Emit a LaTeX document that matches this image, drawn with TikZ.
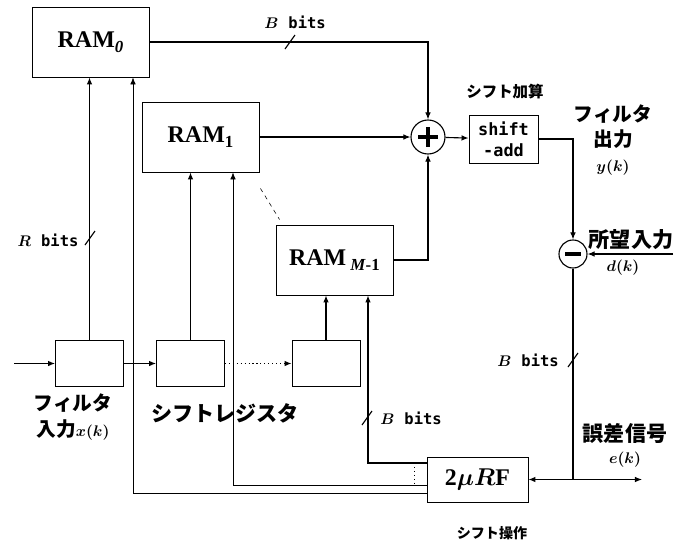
\documentclass[tikz,border=0pt]{standalone}
\usepackage{fontspec}
\usepackage{bm}
\newfontfamily\jp{Noto Sans CJK JP}
\newfontfamily\mono{DejaVu Sans Mono}
\newfontfamily\heavy{Liberation Serif}
\usetikzlibrary{arrows.meta,calc,positioning}
\newcommand\busmark[1]{\draw[wire] ($(#1)+(-5,7)$) -- ($(#1)+(5,-7)$);}
\newcommand\bitstext{\mono\bfseries bits}
\newcommand\ramsub[1]{\raisebox{-4pt}{\fontsize{12}{12}\selectfont #1}}
\tikzset{
  ram/.style={
    draw,
    line width = 0.6pt,
    minimum width = 2.925cm,
    minimum height = 1.75cm,
    inner sep = 0pt,
    font = \heavy\bfseries\fontsize{17}{19}\selectfont
  },
  reg/.style={
    draw,
    line width = 0.6pt,
    minimum width = 1.7cm,
    minimum height = 1.17cm
  },
  adder/.style={
    draw,
    circle,
    line width = 0.8pt,
    inner sep = 0pt
  },
  plus/.style={
    adder,
    path picture={
      \draw[line width=2.4pt] ([xshift=-0.24cm]path picture bounding box.center) -- ([xshift=0.24cm]path picture bounding box.center);
      \draw[line width=2.4pt] ([yshift=-0.24cm]path picture bounding box.center) -- ([yshift=0.24cm]path picture bounding box.center);
    }
  },
  minus/.style={
    adder,
    path picture={
      \draw[line width=2.4pt] ([xshift=-0.2cm]path picture bounding box.center) -- ([xshift=0.2cm]path picture bounding box.center);
    }
  },
  wire/.style={
    line width = 0.8pt
  },
  fb/.style={
    line width = 0.5pt
  },
  bitlbl/.style={
    font = \fontsize{11}{12}\selectfont,
    inner sep = 1pt
  },
  jlabel/.style={
    font = \jp\bfseries\fontsize{14}{18}\selectfont,
    align = center,
    inner sep = 1pt
  }
}

\begin{document}
\begin{tikzpicture}[x=0.025cm, y=-0.025cm, >={Latex[length=5pt,width=4pt]}]
    \useasboundingbox (0,0) rectangle (686,541);

    % RAM tables
    \node[ram] (ram0) at (90.5,42) {RAM\ramsub{\itshape 0}};
    \node[ram] (ram1) at (200.5,137) {RAM\ramsub{1}};
    \node[ram] (ramM) at (334.5,260) {RAM\,\ramsub{\textit{M}-1}};

    % shift register
    \node[reg] (sr1) at (89.5,363.5) {};
    \node[reg] (sr2) at (190.5,363.5) {};
    \node[reg] (sr3) at (326,363.5) {};

    \node[plus, minimum size=0.85cm] (sum) at (428,137) {};
    \node[draw, line width=0.6pt, minimum width=1.725cm, minimum height=1.2cm, inner sep=0pt, align=center,
          font=\mono\bfseries\fontsize{12}{15}\selectfont] (sa) at (503.5,139) {shift\\-add};
    \node[minus, minimum size=0.7cm] (sub) at (573,254) {};
    \node[draw, line width=0.6pt, minimum width=2.525cm, minimum height=1.125cm, font=\heavy\bfseries\fontsize{17}{19}\selectfont] (rf) at (477.5,479.5) {2$\bm{\mu R}$F};

    \coordinate (xin) at (14,363.5);
    \coordinate (din) at (673,254);
    \coordinate (esp) at (573,479.5);
    \coordinate (eout) at (642,479.5);
    \coordinate (fbM) at ($(rf.west)+(0,-16.5)$);
    \coordinate (fb1) at ($(rf.west)+(0,5.5)$);
    \coordinate (fb0) at ($(rf.west)+(0,13.5)$);

    % adder tree and error path
    \draw[wire,->] (ram0.east) -| (sum.north);
    \draw[wire,->] (ram1.east) -- (sum.west);
    \draw[wire,->] (ramM.east) -| (sum.south);
    \draw[wire,->] (sum) -- (sa);
    \draw[wire,->] (sa.east) -| (sub.north);
    \draw[wire,->] (din) -- (sub.east);
    \draw[wire] (sub.south) -- (esp);
    \draw[wire,->] (esp) -- (rf.east);
    \draw[wire,->] (esp) -- (eout);

    \draw[wire,->] (xin) -- (sr1.west);
    \draw[wire,->] (sr1) -- (sr2);
    \draw[wire,->,dotted] (sr2) -- (sr3);
    \draw[wire,->] (sr1.north) -- (sr1.north |- ram0.south);
    \draw[wire,->] (sr2.north) -- (sr2.north |- ram1.south);
    \draw[wire,->] (sr3.north) -- (sr3.north |- ramM.south);

    % update from 2muRF
    \draw[wire,->] (fbM) -| ($(ramM.south)+(33.5,0)$);
    \draw[fb,->] (fb1) -| ($(ram1.south)+(32.5,0)$);
    \draw[fb,->] (fb0) -| ($(ram0.south)+(42.5,0)$);
    \draw[wire,dotted] ($(fbM)+(-12,0)$) -- ($(fb1)+(-12,0)$);
    \draw[dashed] ($(ram1.south east)+(1,16)$) -- ($(ramM.north west)+(4,-5)$);

    \busmark{290,42}
    \busmark{90,238}
    \busmark{573,360}
    \busmark{367,418}
    \node[bitlbl] (lbB0) at (295,22) {$\bm{B}$\ \ \bitstext};
    \node[bitlbl] (lbR) at (48,240) {$\bm{R}$\ \ \bitstext};
    \node[bitlbl] (lbBe) at (528,360) {$\bm{B}$\ \ \bitstext};
    \node[bitlbl] (lbBm) at (411,418) {$\bm{B}$\ \ \bitstext};

    \node[jlabel] (tIn) at (73,417) {フィルタ\\入力{\fontsize{11}{12}\selectfont$\bm{x(k)}$}};
    \node[jlabel, font=\jp\bfseries\fontsize{15}{18}\selectfont] (tSr) at (225,413) {シフトレジスタ};
    \node[jlabel, font=\jp\bfseries\fontsize{11}{13}\selectfont] (tSa) at (505,92) {シフト加算};
    \node[jlabel] (tOut) at (613,140) {フィルタ\\出力\\{\fontsize{11}{12}\selectfont$\bm{y(k)}$}};
    \node[jlabel, font=\jp\bfseries\fontsize{15}{18}\selectfont] (tD) at (631,240) {所望入力};
    \node[bitlbl] (tDk) at (623,268) {$\bm{d(k)}$};
    \node[jlabel, font=\jp\bfseries\fontsize{15}{18}\selectfont] (tE) at (625,433) {誤差信号};
    \node[bitlbl] (tEk) at (625,460) {$\bm{e(k)}$};
    \node[jlabel, font=\jp\bfseries\fontsize{10}{12}\selectfont] (tMu) at (492,533) {シフト操作};
\end{tikzpicture}
\end{document}
